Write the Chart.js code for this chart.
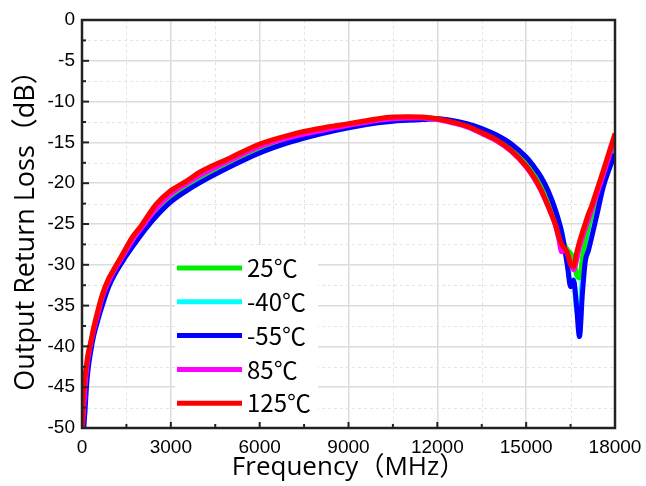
<!DOCTYPE html>
<html>
<head>
<meta charset="utf-8">
<script src="https://cdn.jsdelivr.net/npm/chart.js@4.4.1/dist/chart.umd.min.js"></script>
<style>
  html, body { margin: 0; padding: 0; background: #fff; }
  #wrap { width: 646px; height: 486px; }
</style>
</head>
<body>
<div id="wrap"><canvas id="returnLossChart" width="646" height="486"></canvas></div>
<script>
// frequency points (MHz) shared by all traces
const freqs = [10, 50, 100, 150, 200, 300, 400, 550, 700, 900, 1100, 1400, 1700, 2000, 2500, 3000, 3500, 4000,
    5000, 6000, 7000, 8000, 9000, 10000, 10500, 11000, 11500, 12000, 12500, 13000, 13500, 14000, 14500, 15000,
    15250, 15500, 15750, 16000, 16100, 16200, 16300, 16400, 16500, 16600, 16700, 16800, 16900, 17000, 17100,
    17200, 17400, 17600, 17800, 18000];

const temps = ['25℃', '-40℃', '-55℃', '85℃', '125℃'];
const colors = ['#00ee00', '#00ffff', '#0000ff', '#ff00ff', '#ff0000'];

// output return loss (dB)
const rl25 = [-50, -47, -44.5, -42.8, -41.3, -39.5, -37.9, -35.9, -34.0, -32.0, -30.6, -28.8, -27.1, -25.6, -23.3, -21.6, -20.3, -19.2,
    -17.4, -15.7, -14.5, -13.6, -12.9, -12.3, -12.1, -12.0, -12.0, -12.1, -12.4, -12.9, -13.6, -14.5, -15.7, -17.4,
    -18.6, -20.1, -22.0, -24.3, -25.4, -26.6, -27.6, -28.2, -28.6, -29.3, -31.2, -31.6, -29.2, -27.0, -25.4,
    -24.1, -21.8, -19.8, -17.6, -15.5];
const rlM40 = [-50, -49, -46.5, -44, -42.3, -40.0, -38.4, -36.3, -34.5, -32.4, -31.0, -29.2, -27.6, -26.0, -23.8, -22.0, -20.7, -19.6,
    -17.8, -16.1, -14.9, -13.9, -13.1, -12.5, -12.3, -12.2, -12.1, -12.1, -12.4, -12.8, -13.5, -14.3, -15.4, -17.0,
    -18.2, -19.6, -21.4, -23.6, -24.7, -26.0, -27.8, -30.0, -32.2, -31.8, -35.5, -36.5, -31.0, -27.6, -25.5,
    -24.0, -21.5, -19.3, -17.4, -15.6];
const rlM55 = [-52, -50.5, -48, -45, -43, -40.5, -38.6, -36.6, -34.8, -32.7, -31.2, -29.4, -27.8, -26.3, -24.1, -22.3, -21.0, -19.9,
    -18.0, -16.3, -15.0, -14.0, -13.2, -12.6, -12.4, -12.3, -12.2, -12.1, -12.3, -12.7, -13.3, -14.1, -15.2, -16.8,
    -17.9, -19.2, -21.0, -23.4, -24.6, -26.0, -28.0, -30.3, -32.7, -31.9, -35.0, -38.8, -33.5, -29.5, -28.3,
    -26.8, -23.7, -20.5, -18.3, -16.4];
const rl85 = [-50, -48, -45, -43, -41.5, -39.6, -37.9, -35.8, -33.8, -32.0, -30.6, -28.8, -27.0, -25.5, -23.1, -21.3, -20.1, -19.0,
    -17.2, -15.5, -14.4, -13.6, -12.9, -12.3, -12.1, -12.0, -12.0, -12.2, -12.6, -13.1, -13.9, -14.8, -16.1, -18.0,
    -19.3, -20.9, -22.9, -25.3, -26.8, -28.4, -28.0, -28.7, -29.8, -30.6, -29.5, -27.8, -26.6, -25.5, -24.4,
    -23.4, -21.2, -19.0, -16.7, -14.3];
const rl125 = [-50, -45.5, -43.6, -42.3, -41.0, -39.4, -37.6, -35.4, -33.5, -31.7, -30.4, -28.5, -26.6, -25.2, -22.6, -20.9, -19.8, -18.6,
    -16.9, -15.2, -14.1, -13.3, -12.7, -12.1, -11.9, -11.85, -11.9, -12.1, -12.5, -13.0, -13.8, -14.7, -16.0, -17.9,
    -19.2, -20.8, -22.9, -25.2, -26.5, -27.5, -28.0, -28.6, -30.0, -30.2, -28.6, -27.2, -26.0, -24.9, -23.8,
    -22.9, -20.7, -18.5, -16.2, -13.9];

const series = [rl25, rlM40, rlM55, rl85, rl125];
const drawOrder = [3, 4, 2, 1, 0]; // red on top

const cjkFont = '"Noto Sans CJK SC", "Liberation Sans", sans-serif';
const titleFont = '"Open Sans", "Noto Sans CJK SC", sans-serif';
const tickFont = '"Liberation Sans", Arial, sans-serif';

// minor dashed grid, inward ticks, frame and the boxed legend
const decorPlugin = {
    id: 'decor',
    beforeDatasetsDraw(chart) {
        const { ctx, chartArea: a, scales: { x, y } } = chart;
        ctx.save();
        ctx.strokeStyle = '#e4e4e4';
        ctx.lineWidth = 1;
        ctx.setLineDash([3, 3]);
        for (let v = 1500; v < 18000; v += 3000) {
            const px = Math.round(x.getPixelForValue(v)) + 0.5;
            ctx.beginPath(); ctx.moveTo(px, a.top); ctx.lineTo(px, a.bottom); ctx.stroke();
        }
        for (let v = -2.5; v > -50; v -= 5) {
            const py = Math.round(y.getPixelForValue(v)) + 0.5;
            ctx.beginPath(); ctx.moveTo(a.left, py); ctx.lineTo(a.right, py); ctx.stroke();
        }
        ctx.restore();
    },
    afterDatasetsDraw(chart) {
        const { ctx, chartArea: a, scales: { x, y } } = chart;
        ctx.save();
        // legend box
        ctx.fillStyle = '#fff';
        ctx.fillRect(175, 245, 143, 180);
        chart.data.datasets.forEach((ds, i) => {
            const ly = 268 + i * 33.8;
            ctx.strokeStyle = ds.borderColor;
            ctx.lineWidth = 5;
            ctx.beginPath(); ctx.moveTo(177, ly); ctx.lineTo(242, ly); ctx.stroke();
            ctx.fillStyle = '#000';
            ctx.font = '24px ' + cjkFont;
            ctx.textBaseline = 'middle';
            ctx.fillText(ds.label, 247, ly);
        });
        // ticks pointing inward
        ctx.strokeStyle = '#222';
        ctx.lineWidth = 2;
        for (let v = 0; v <= 18000; v += 1500) {
            const px = x.getPixelForValue(v);
            const len = v % 3000 === 0 ? 6 : 4;
            ctx.beginPath(); ctx.moveTo(px, a.bottom); ctx.lineTo(px, a.bottom - len); ctx.stroke();
        }
        for (let v = 0; v >= -50; v -= 2.5) {
            const py = y.getPixelForValue(v);
            const len = v % 5 === 0 ? 7 : 4;
            ctx.beginPath(); ctx.moveTo(a.left, py); ctx.lineTo(a.left + len, py); ctx.stroke();
        }
        // frame
        ctx.lineWidth = 2.5;
        ctx.strokeStyle = '#222';
        ctx.strokeRect(a.left, a.top, a.right - a.left, a.bottom - a.top);
        ctx.restore();
    }
};

const ctx = document.getElementById('returnLossChart');
new Chart(ctx, {
    type: 'line',
    data: {
        datasets: series.map((vals, i) => ({
            label: temps[i],
            data: freqs.map((f, k) => ({ x: f, y: vals[k] })),
            borderColor: colors[i],
            borderWidth: 5,
            pointRadius: 0,
            cubicInterpolationMode: 'monotone',
            order: drawOrder[i]
        }))
    },
    options: {
        responsive: false,
        animation: false,
        events: [],
        layout: { padding: { top: 20, right: 31, left: 0, bottom: 0 } },
        plugins: { legend: { display: false }, tooltip: { enabled: false } },
        scales: {
            x: {
                type: 'linear',
                min: 0,
                max: 18000,
                afterFit: s => { s.height = 58; s.paddingLeft = 0; s.paddingRight = 0; },
                ticks: {
                    stepSize: 3000,
                    padding: 8,
                    color: '#000',
                    maxRotation: 0,
                    font: { family: tickFont, size: 19 },
                    callback: v => String(v)
                },
                grid: { color: '#dcdcdc', lineWidth: 1.5, drawTicks: false },
                border: { display: false },
                title: {
                    display: true,
                    text: 'Frequency（MHz）',
                    color: '#000',
                    font: { family: titleFont, size: 26 },
                    padding: { top: 0, bottom: 3 }
                }
            },
            y: {
                type: 'linear',
                min: -50,
                max: 0,
                afterFit: s => { s.width = 82; s.paddingTop = 0; s.paddingBottom = 0; },
                ticks: {
                    stepSize: 5,
                    padding: 7,
                    color: '#000',
                    font: { family: tickFont, size: 19 },
                    callback: v => String(v)
                },
                grid: { color: '#dcdcdc', lineWidth: 1.5, drawTicks: false },
                border: { display: false },
                title: {
                    display: true,
                    text: 'Output Return Loss（dB）',
                    color: '#000',
                    font: { family: titleFont, size: 27 },
                    padding: { top: 10, bottom: 0 }
                }
            }
        }
    },
    plugins: [decorPlugin]
});
</script>
</body>
</html>
